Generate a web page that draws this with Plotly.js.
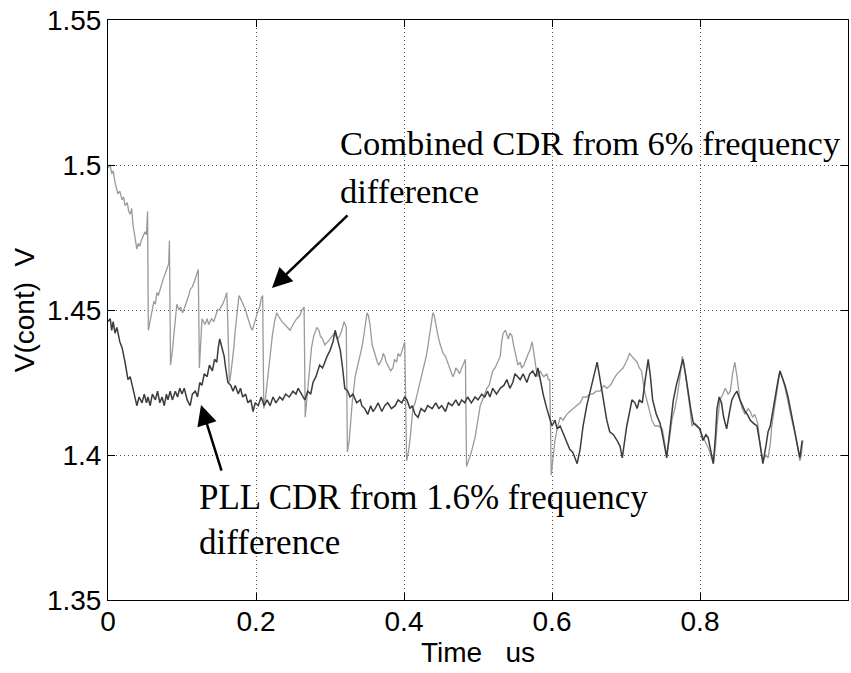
<!DOCTYPE html>
<html>
<head>
<meta charset="utf-8">
<script src="https://cdn.plot.ly/plotly-3.0.1.min.js"></script>
<style>html,body{margin:0;padding:0;background:#fff;}#chart{width:851px;height:673px;}</style>
</head>
<body>
<div id="chart"></div>
<script>
// Combined CDR from 6% frequency difference (light gray trace)
const combinedTime = [0.000,0.003,0.005,0.007,0.0095,0.012,0.0135,0.016,0.019,0.021,0.023,0.026,0.028,0.030,0.032,0.034,0.036,0.039,0.041,0.043,0.045,0.047,0.050,0.052,0.0535,0.0545,0.056,0.058,0.060,0.062,0.064,0.066,0.068,0.070,0.073,0.075,0.078,0.080,0.082,0.083,0.0845,0.087,0.089,0.091,0.093,0.096,0.098,0.101,0.104,0.106,0.109,0.111,0.114,0.117,0.120,0.122,0.1235,0.125,0.127,0.129,0.131,0.134,0.136,0.138,0.140,0.143,0.145,0.148,0.150,0.153,0.155,0.158,0.1605,0.162,0.164,0.166,0.168,0.170,0.172,0.174,0.177,0.179,0.181,0.184,0.186,0.188,0.190,0.193,0.195,0.197,0.199,0.201,0.203,0.205,0.207,0.209,0.2105,0.213,0.215,0.218,0.220,0.222,0.225,0.228,0.230,0.232,0.235,0.239,0.242,0.246,0.250,0.255,0.259,0.262,0.265,0.2665,0.269,0.272,0.275,0.278,0.282,0.285,0.287,0.290,0.293,0.297,0.300,0.303,0.306,0.310,0.313,0.316,0.319,0.322,0.3235,0.326,0.330,0.334,0.337,0.339,0.343,0.345,0.347,0.350,0.352,0.354,0.357,0.361,0.364,0.366,0.368,0.370,0.372,0.374,0.376,0.378,0.382,0.385,0.387,0.390,0.392,0.395,0.397,0.399,0.401,0.4035,0.406,0.408,0.412,0.415,0.418,0.421,0.424,0.428,0.430,0.432,0.434,0.436,0.439,0.441,0.443,0.446,0.449,0.453,0.456,0.459,0.462,0.466,0.468,0.470,0.473,0.475,0.478,0.480,0.483,0.4845,0.487,0.491,0.496,0.500,0.503,0.506,0.509,0.512,0.515,0.518,0.520,0.523,0.526,0.530,0.532,0.534,0.537,0.539,0.541,0.543,0.546,0.548,0.550,0.552,0.554,0.557,0.559,0.562,0.566,0.568,0.570,0.573,0.575,0.577,0.579,0.581,0.584,0.586,0.589,0.593,0.595,0.597,0.599,0.601,0.604,0.607,0.611,0.615,0.620,0.624,0.628,0.633,0.638,0.642,0.647,0.651,0.655,0.660,0.665,0.670,0.674,0.679,0.683,0.688,0.692,0.696,0.700,0.705,0.708,0.712,0.715,0.718,0.721,0.725,0.730,0.735,0.739,0.744,0.749,0.752,0.755,0.759,0.762,0.766,0.769,0.773,0.776,0.779,0.782,0.786,0.789,0.793,0.797,0.801,0.807,0.812,0.818,0.821,0.823,0.825,0.827,0.831,0.834,0.838,0.841,0.844,0.847,0.850,0.854,0.857,0.861,0.865,0.868,0.871,0.874,0.878,0.881,0.885,0.889,0.892,0.895,0.897,0.901,0.904,0.908,0.911,0.915,0.918,0.922,0.925,0.928,0.932,0.935,0.937,0.939];
const combinedV = [1.499,1.500,1.497,1.498,1.494,1.492,1.490,1.491,1.488,1.489,1.486,1.487,1.484,1.483,1.485,1.479,1.475,1.471,1.473,1.472,1.474,1.475,1.477,1.476,1.484,1.443,1.445,1.447,1.451,1.453,1.452,1.456,1.455,1.457,1.460,1.461,1.463,1.465,1.466,1.474,1.431,1.436,1.441,1.448,1.452,1.450,1.451,1.449,1.451,1.453,1.455,1.457,1.458,1.460,1.462,1.464,1.430,1.440,1.447,1.446,1.445,1.447,1.445,1.446,1.447,1.446,1.448,1.450,1.450,1.451,1.452,1.454,1.456,1.445,1.425,1.428,1.432,1.437,1.443,1.448,1.455,1.454,1.453,1.451,1.450,1.448,1.446,1.444,1.443,1.445,1.446,1.448,1.450,1.451,1.454,1.455,1.416,1.420,1.425,1.433,1.438,1.441,1.446,1.449,1.448,1.447,1.446,1.445,1.444,1.443,1.445,1.447,1.448,1.450,1.451,1.413,1.420,1.430,1.437,1.441,1.444,1.443,1.441,1.440,1.438,1.439,1.440,1.441,1.442,1.440,1.441,1.443,1.446,1.444,1.401,1.405,1.418,1.427,1.430,1.432,1.437,1.440,1.444,1.449,1.448,1.445,1.438,1.434,1.432,1.431,1.432,1.433,1.435,1.434,1.432,1.431,1.429,1.430,1.433,1.432,1.435,1.434,1.436,1.437,1.439,1.398,1.401,1.405,1.416,1.418,1.421,1.424,1.427,1.432,1.434,1.437,1.441,1.444,1.449,1.448,1.445,1.441,1.438,1.435,1.434,1.432,1.430,1.427,1.428,1.430,1.429,1.428,1.430,1.431,1.433,1.396,1.398,1.401,1.406,1.412,1.417,1.419,1.421,1.423,1.424,1.427,1.429,1.430,1.432,1.434,1.439,1.442,1.443,1.441,1.440,1.442,1.441,1.438,1.436,1.433,1.431,1.432,1.430,1.431,1.434,1.435,1.436,1.439,1.436,1.432,1.429,1.427,1.429,1.428,1.427,1.428,1.426,1.426,1.393,1.398,1.405,1.409,1.413,1.412,1.414,1.415,1.416,1.417,1.418,1.420,1.420,1.421,1.421,1.422,1.422,1.424,1.423,1.424,1.426,1.428,1.429,1.430,1.432,1.435,1.434,1.433,1.432,1.430,1.429,1.422,1.417,1.412,1.410,1.410,1.409,1.405,1.400,1.406,1.412,1.416,1.420,1.427,1.434,1.430,1.425,1.417,1.410,1.411,1.410,1.408,1.405,1.402,1.397,1.403,1.410,1.415,1.419,1.421,1.423,1.421,1.422,1.428,1.432,1.427,1.419,1.416,1.414,1.416,1.415,1.413,1.414,1.411,1.404,1.398,1.400,1.399,1.404,1.410,1.416,1.422,1.429,1.427,1.423,1.419,1.414,1.411,1.408,1.403,1.398,1.400,1.405];

// PLL CDR from 1.6% frequency difference (dark trace)
const pllTime = [0.000,0.003,0.005,0.007,0.0095,0.012,0.016,0.019,0.023,0.025,0.027,0.030,0.034,0.036,0.039,0.042,0.046,0.049,0.052,0.054,0.057,0.060,0.064,0.067,0.070,0.073,0.076,0.079,0.081,0.084,0.087,0.091,0.094,0.097,0.100,0.103,0.107,0.111,0.114,0.118,0.121,0.124,0.127,0.130,0.134,0.137,0.141,0.144,0.147,0.149,0.151,0.154,0.157,0.159,0.162,0.166,0.169,0.172,0.176,0.179,0.182,0.186,0.189,0.193,0.196,0.199,0.203,0.207,0.211,0.215,0.219,0.223,0.227,0.232,0.236,0.240,0.245,0.250,0.254,0.257,0.261,0.266,0.270,0.274,0.277,0.281,0.286,0.290,0.296,0.300,0.304,0.307,0.310,0.314,0.317,0.320,0.324,0.327,0.331,0.336,0.341,0.343,0.347,0.351,0.355,0.358,0.361,0.365,0.370,0.374,0.378,0.383,0.388,0.392,0.397,0.401,0.404,0.408,0.411,0.415,0.419,0.423,0.428,0.432,0.438,0.443,0.447,0.451,0.456,0.460,0.465,0.470,0.474,0.478,0.482,0.486,0.491,0.496,0.500,0.505,0.509,0.513,0.516,0.520,0.525,0.530,0.535,0.539,0.543,0.547,0.550,0.553,0.557,0.561,0.566,0.570,0.574,0.578,0.581,0.585,0.588,0.593,0.597,0.600,0.604,0.607,0.611,0.614,0.618,0.621,0.624,0.628,0.631,0.634,0.638,0.642,0.647,0.651,0.655,0.658,0.661,0.665,0.669,0.674,0.678,0.683,0.688,0.692,0.695,0.698,0.701,0.705,0.708,0.712,0.715,0.718,0.722,0.726,0.730,0.733,0.736,0.741,0.746,0.750,0.755,0.759,0.764,0.768,0.773,0.777,0.781,0.784,0.788,0.791,0.796,0.800,0.804,0.808,0.811,0.815,0.818,0.821,0.823,0.826,0.829,0.832,0.836,0.840,0.843,0.847,0.850,0.854,0.857,0.861,0.864,0.868,0.872,0.877,0.881,0.885,0.889,0.892,0.895,0.898,0.901,0.905,0.908,0.912,0.915,0.919,0.922,0.925,0.928,0.932,0.935,0.938];
const pllV = [1.446,1.447,1.443,1.446,1.442,1.444,1.439,1.437,1.432,1.429,1.426,1.427,1.423,1.421,1.417,1.420,1.418,1.421,1.418,1.420,1.417,1.421,1.419,1.422,1.418,1.420,1.417,1.421,1.419,1.422,1.419,1.422,1.420,1.423,1.421,1.423,1.419,1.417,1.421,1.422,1.420,1.425,1.424,1.428,1.427,1.431,1.429,1.433,1.432,1.437,1.440,1.437,1.434,1.430,1.425,1.424,1.422,1.424,1.421,1.423,1.420,1.421,1.418,1.419,1.415,1.418,1.417,1.420,1.417,1.419,1.417,1.420,1.418,1.420,1.419,1.421,1.420,1.422,1.421,1.423,1.421,1.419,1.422,1.421,1.425,1.427,1.431,1.430,1.434,1.436,1.439,1.443,1.440,1.436,1.430,1.423,1.422,1.420,1.421,1.418,1.419,1.417,1.416,1.414,1.417,1.415,1.416,1.418,1.415,1.417,1.418,1.416,1.417,1.419,1.418,1.420,1.419,1.416,1.417,1.414,1.413,1.416,1.415,1.417,1.416,1.418,1.416,1.417,1.415,1.418,1.417,1.419,1.417,1.419,1.418,1.420,1.418,1.420,1.419,1.421,1.420,1.422,1.420,1.423,1.421,1.423,1.424,1.426,1.423,1.425,1.428,1.427,1.426,1.428,1.425,1.428,1.429,1.427,1.430,1.425,1.421,1.416,1.413,1.410,1.412,1.409,1.410,1.408,1.406,1.404,1.402,1.401,1.399,1.397,1.402,1.410,1.417,1.421,1.425,1.429,1.432,1.426,1.419,1.412,1.408,1.407,1.405,1.403,1.399,1.405,1.410,1.415,1.419,1.418,1.416,1.419,1.418,1.426,1.433,1.427,1.419,1.414,1.411,1.406,1.399,1.408,1.419,1.424,1.429,1.433,1.427,1.421,1.415,1.411,1.410,1.409,1.405,1.407,1.406,1.401,1.397,1.407,1.416,1.420,1.418,1.413,1.409,1.415,1.419,1.421,1.422,1.419,1.417,1.415,1.414,1.412,1.411,1.410,1.404,1.397,1.403,1.408,1.410,1.415,1.419,1.425,1.429,1.426,1.424,1.420,1.416,1.412,1.408,1.403,1.399,1.405];

const xTickVals = [0, 0.2, 0.4, 0.6, 0.8, 1];
const yTickVals = [1.35, 1.4, 1.45, 1.5, 1.55];

const label1a = 'Combined CDR from 6% frequency';
const label1b = 'difference';
const label2a = 'PLL CDR from 1.6% frequency';
const label2b = 'difference';

const tickFont = {family: 'Liberation Sans, Arial, sans-serif', size: 28, color: '#000'};
const serif1 = {family: 'Liberation Serif, Times New Roman, serif', size: 34.5, color: '#000'};
const serif2 = {family: 'Liberation Serif, Times New Roman, serif', size: 35, color: '#000'};

const traces = [
  {x: combinedTime, y: combinedV, type: 'scatter', mode: 'lines', name: 'Combined CDR',
   line: {color: '#9a9a9a', width: 1.3}, hoverinfo: 'skip'},
  {x: pllTime, y: pllV, type: 'scatter', mode: 'lines', name: 'PLL CDR',
   line: {color: '#3c3c3c', width: 1.5}, hoverinfo: 'skip'}
];

const axisCommon = {
  showline: true, linecolor: '#000', linewidth: 1, mirror: 'ticks',
  ticks: 'inside', ticklen: 7, tickcolor: '#000', tickwidth: 1,
  showgrid: true, gridcolor: '#555', griddash: '1px,3px', gridwidth: 1,
  zeroline: false, tickfont: tickFont
};

const layout = {
  width: 851, height: 673,
  margin: {l: 108, r: 3, t: 20, b: 73},
  paper_bgcolor: '#fff', plot_bgcolor: '#fff',
  showlegend: false,
  xaxis: Object.assign({}, axisCommon, {
    range: [0, 1], tickvals: xTickVals, ticktext: xTickVals.map(String),
    ticklabelstandoff: -4,
    title: {text: 'Time\u00a0\u00a0\u00a0us', font: {family: 'Liberation Sans, Arial, sans-serif', size: 28, color: '#000'}, standoff: 6}
  }),
  yaxis: Object.assign({}, axisCommon, {
    range: [1.35, 1.55], tickvals: yTickVals, ticktext: yTickVals.map(String),
    title: {text: 'V(cont)\u00a0\u00a0V', font: {family: 'Liberation Sans, Arial, sans-serif', size: 28, color: '#000'}, standoff: 4}
  }),
  annotations: [
    {x: 0.311, y: 1.5076, xref: 'x', yref: 'y', text: label1a, showarrow: false, xanchor: 'left', yanchor: 'middle', font: serif1},
    {x: 0.311, y: 1.4912, xref: 'x', yref: 'y', text: label1b, showarrow: false, xanchor: 'left', yanchor: 'middle', font: serif1},
    {x: 0.120, y: 1.3852, xref: 'x', yref: 'y', text: label2a, showarrow: false, xanchor: 'left', yanchor: 'middle', font: serif2},
    {x: 0.120, y: 1.3697, xref: 'x', yref: 'y', text: label2b, showarrow: false, xanchor: 'left', yanchor: 'middle', font: serif2},
    {x: 0.2216, y: 1.4576, ax: 0.3257, ay: 1.4831, xref: 'x', yref: 'y', axref: 'x', ayref: 'y',
     text: '', showarrow: true, arrowhead: 2, arrowsize: 1.6, arrowwidth: 2.5, arrowcolor: '#000'},
    {x: 0.1257, y: 1.4172, ax: 0.154, ay: 1.3941, xref: 'x', yref: 'y', axref: 'x', ayref: 'y',
     text: '', showarrow: true, arrowhead: 2, arrowsize: 1.6, arrowwidth: 2.5, arrowcolor: '#000'}
  ]
};

Plotly.newPlot('chart', traces, layout, {displayModeBar: false, staticPlot: true});
</script>
</body>
</html>
